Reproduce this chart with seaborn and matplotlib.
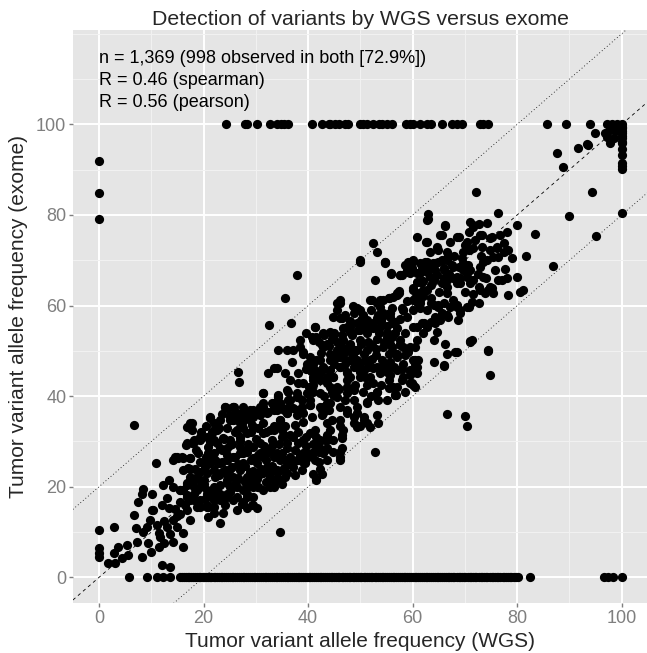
import numpy as np
import pandas as pd
import matplotlib
matplotlib.use("Agg")
import matplotlib.pyplot as plt
from matplotlib.ticker import FixedLocator
import seaborn as sns

# (WGS, exome) allele frequencies
cloud_low = [
    (6.6, 33.6), (2.9, 11.2), (1.8, 3.1), (2.8, 5.3), (3.7, 6.8), (5.3, 7.1), (4.3, 4.2), (3.1, 3.1),
    (5.6, 4.9), (7.2, 7.9), (8.5, 10.1), (9.4, 7.5), (8.2, 4.6), (9.1, 11.2), (9.8, 12.6), (10.4, 14.8),
    (11.4, 9.7), (11.4, 6.8), (11.7, 9.0), (11.0, 11.6), (12.0, 2.7), (13.6, 2.3), (13.0, 11.2),
    (14.2, 12.6), (14.9, 11.2), (16.1, 9.7), (16.0, 6.8), (14.2, 7.9), (15.5, 19.2), (15.5, 16.7),
    (16.8, 14.8), (17.4, 12.6), (16.8, 18.2), (17.4, 21.5), (18.7, 22.2), (20.0, 21.5), (19.3, 20.0),
    (18.1, 18.5), (20.9, 13.4), (20.9, 15.6), (20.3, 17.4), (21.6, 18.5), (23.2, 11.9), (23.8, 14.1),
    (24.1, 15.9), (23.2, 17.8), (22.5, 19.6), (24.4, 18.5), (26.3, 20.0), (8.5, 19.6), (8.2, 18.5),
    (10.1, 18.5), (12.3, 20.4), (7.5, 16.7), (6.6, 13.7), (10.1, 14.8), (12.0, 15.9), (13.3, 15.2),
    (10.9, 25.3), (14.5, 26.6), (15.2, 26.3), (16.6, 29.2), (17.7, 29.6), (19.3, 30.3), (17.4, 34.0),
    (17.7, 32.5), (21.2, 35.5), (17.4, 26.3), (17.4, 24.0), (18.4, 24.0), (34.6, 10.1),
    (29.5, 16.0), (28.3, 15.2), (26.3, 14.9), (21.9, 20.0), (20.6, 18.5), (21.9, 14.1), (21.2, 25.2),
    (19.3, 31.0), (18.1, 30.3), (16.8, 33.2), (15.8, 26.6), (14.9, 26.6), (14.2, 25.9), (16.1, 23.7),
    (17.4, 22.2), (19.3, 21.5), (20.6, 23.0), (21.9, 23.7), (15.5, 19.3), (14.2, 20.0), (13.3, 21.5),
    (16.8, 20.8), (18.1, 20.0), (16.8, 17.8), (18.1, 17.1), (19.3, 15.6), (20.6, 15.6), (21.9, 17.1),
    (7.0, 11.0), (12.5, 12.5), (12.5, 7.5), (13.5, 9.5), (15.0, 13.5), (13.0, 17.5), (14.5, 15.0),
    (10.0, 5.5), (15.5, 14.0),
]

cloud_core = [
    (31.4, 40.6), (34.3, 40.2), (36.2, 39.1), (38.1, 39.9), (41.0, 41.0), (40.4, 38.0), (42.9, 36.2),
    (43.6, 34.0), (24.1, 37.7), (25.7, 37.7), (21.2, 35.1), (17.7, 34.0), (17.4, 32.9), (16.8, 29.6),
    (18.1, 29.9), (19.6, 30.7), (21.6, 32.1), (21.9, 30.3), (20.9, 27.4), (16.1, 26.3), (17.4, 26.3),
    (17.1, 24.1), (19.3, 25.5), (21.2, 25.9), (22.5, 25.5), (23.5, 28.1), (25.1, 34.7), (26.3, 36.2),
    (28.3, 35.5), (29.2, 33.6), (30.8, 35.8), (32.4, 36.6), (33.4, 37.7), (34.6, 34.7), (35.9, 36.2),
    (37.2, 37.3), (35.6, 33.3), (37.5, 33.6), (39.1, 34.4), (40.7, 35.5), (41.3, 32.5), (42.3, 30.3),
    (43.6, 30.7), (43.6, 28.5), (42.0, 27.7), (41.3, 25.9), (39.4, 25.5), (38.5, 27.0), (38.1, 29.6),
    (41.6, 21.8), (38.8, 23.7), (37.2, 24.4), (35.3, 24.1), (34.0, 23.3), (34.3, 21.8), (32.7, 22.2),
    (31.4, 23.0), (30.2, 21.8), (29.2, 21.5), (28.3, 20.0), (30.5, 20.0), (26.0, 20.7), (24.4, 21.5),
    (23.2, 20.4), (25.1, 18.9), (26.3, 17.8), (28.3, 17.8), (29.2, 16.0), (27.3, 16.3), (19.3, 23.3),
    (20.0, 20.7), (18.1, 21.5), (16.8, 20.4), (16.1, 19.3), (18.7, 19.3), (20.6, 19.3), (21.6, 17.8),
    (19.3, 17.1), (17.4, 17.1), (16.5, 16.0), (18.7, 15.6), (20.6, 16.0), (21.9, 15.6), (23.2, 17.1),
    (24.5, 33.0), (26.0, 32.0), (27.5, 33.0), (29.0, 32.0), (30.5, 33.0), (32.0, 32.0), (33.5, 33.5),
    (35.0, 32.5), (36.5, 31.5), (38.0, 32.0), (39.5, 31.0), (24.0, 30.5), (25.5, 29.5), (27.0, 30.0),
    (28.5, 29.5), (30.0, 30.5), (31.5, 29.0), (33.0, 29.0), (34.5, 29.5), (36.0, 28.5), (37.5, 28.0),
    (39.5, 29.0), (41.0, 29.5), (24.5, 27.0), (26.0, 26.5), (27.5, 27.5), (29.0, 26.0), (30.5, 27.0),
    (32.0, 26.0), (33.5, 26.5), (35.0, 27.5), (36.5, 25.0), (38.0, 26.0), (40.0, 26.5), (23.5, 25.5),
    (25.0, 24.0), (26.5, 25.0), (28.0, 24.5), (29.5, 23.5), (31.0, 24.0), (33.0, 24.5), (34.5, 23.5),
    (36.0, 23.0), (37.5, 22.5), (23.0, 22.5), (24.5, 22.5), (26.5, 22.0), (28.0, 21.0), (30.0, 22.5),
    (32.0, 21.0), (33.5, 20.0), (35.0, 20.5), (19.0, 27.5), (20.5, 26.5), (22.0, 27.5), (18.5, 28.0),
    (19.5, 32.0), (20.5, 33.5), (22.0, 34.0), (23.0, 33.0), (23.5, 36.0), (27.5, 37.5), (29.5, 37.0),
]

cloud_mid = [
    (26.7, 43.2), (31.4, 40.6), (34.3, 40.0), (35.9, 41.3), (24.1, 37.5), (25.8, 37.5), (20.6, 25.9),
    (20.3, 24.4), (22.2, 25.9), (22.8, 25.2), (23.5, 23.3), (22.2, 22.2), (24.1, 23.7), (25.4, 24.4),
    (20.9, 28.8), (21.2, 29.9), (21.6, 31.8), (22.5, 32.5), (23.8, 30.7), (23.2, 28.5), (24.4, 28.5),
    (25.1, 29.2), (25.1, 35.5), (25.7, 34.7), (26.3, 32.5), (27.3, 34.0), (27.0, 31.0), (28.3, 35.1),
    (28.9, 36.9), (29.5, 35.5), (27.0, 28.8), (28.3, 27.7), (29.5, 26.3), (27.6, 25.2), (28.9, 23.3),
    (30.8, 22.9), (30.2, 25.2), (32.1, 24.4), (31.4, 26.6), (32.7, 28.1), (28.3, 21.5), (26.3, 21.5),
    (25.1, 20.0), (27.6, 19.3), (29.5, 20.0), (30.5, 20.0), (30.2, 15.2), (31.4, 31.8), (32.7, 32.5),
    (34.0, 33.2), (33.0, 30.3), (35.0, 31.0), (35.9, 29.6), (34.0, 27.4), (35.6, 25.9), (34.0, 23.7),
    (35.6, 22.2), (34.0, 21.5), (30.2, 36.2), (31.4, 38.4), (33.4, 36.9), (34.6, 34.7), (35.9, 36.2),
    (33.0, 38.4), (34.6, 38.4), (23.2, 25.2), (24.4, 25.9), (25.7, 26.6), (26.9, 27.4), (28.3, 28.1),
    (29.5, 28.8), (30.8, 29.6), (24.4, 37.3), (27.6, 36.2), (28.9, 34.7), (25.7, 34.7), (27.0, 34.0),
    (23.2, 34.7), (21.9, 32.5), (20.6, 31.0), (22.5, 29.6), (25.1, 30.3), (26.9, 31.0), (28.3, 31.8),
    (29.5, 33.2), (31.4, 34.0), (32.1, 36.2), (30.8, 37.7), (34.0, 36.9), (30.8, 27.4), (32.1, 27.4),
    (31.4, 23.7), (33.4, 21.5), (32.7, 20.0), (31.4, 19.3), (29.5, 20.8), (28.3, 22.2), (26.9, 23.7),
    (25.7, 22.2), (24.4, 20.8), (25.7, 20.0), (28.3, 18.5), (29.5, 17.8), (27.6, 16.7), (25.7, 17.1),
    (24.4, 17.8), (23.2, 18.5), (32.7, 23.0), (34.6, 25.9), (36.5, 26.6), (37.8, 25.9), (39.1, 27.4),
    (39.4, 25.2), (40.7, 27.4), (42.0, 28.8), (43.2, 28.1), (41.6, 31.0), (43.6, 31.4), (40.4, 31.8),
    (39.1, 30.3), (37.2, 31.0), (35.3, 31.4), (33.4, 32.5), (41.0, 22.9), (42.3, 24.0), (43.6, 25.9),
    (37.8, 36.9), (35.9, 37.3), (34.6, 38.0), (36.6, 39.1), (38.8, 39.1), (37.8, 40.6), (40.4, 38.0),
    (42.3, 37.7), (43.9, 36.9), (39.1, 42.8), (40.1, 42.1), (25.7, 37.7), (25.1, 35.8), (27.0, 35.5),
    (28.9, 35.5), (31.4, 37.7), (33.4, 38.4), (35.3, 36.9), (37.8, 35.8), (39.1, 36.2), (40.4, 39.1),
    (42.9, 37.7), (42.6, 35.8), (44.2, 38.4), (45.5, 39.9), (46.1, 37.7), (47.4, 40.6), (48.7, 39.1),
    (49.3, 37.7), (51.2, 38.4), (53.1, 41.0), (53.4, 39.1), (56.3, 41.7), (56.6, 40.2), (34.3, 39.9),
    (36.2, 41.0), (38.1, 42.8), (37.8, 39.9), (38.8, 37.7), (26.6, 45.4), (32.4, 45.0), (34.0, 46.1),
    (35.6, 45.0), (33.4, 46.1), (34.3, 50.2), (35.9, 50.2), (37.1, 50.2), (39.1, 49.8), (41.0, 47.2),
    (41.9, 44.7), (41.0, 52.4), (42.6, 51.3), (41.3, 55.3), (42.9, 53.9), (32.6, 55.7), (36.7, 56.1),
    (35.6, 61.6), (37.8, 66.7), (41.0, 43.5), (42.3, 43.5), (43.6, 44.3), (44.2, 42.1), (41.3, 45.8),
    (42.3, 48.0), (44.2, 48.0), (45.5, 50.2), (44.8, 53.1), (43.6, 51.6), (41.6, 53.1), (44.2, 54.2),
    (47.4, 36.9), (46.1, 34.7), (46.7, 32.5), (46.4, 30.7), (49.3, 36.2), (50.6, 35.5), (51.2, 34.0),
    (53.1, 35.8), (51.8, 33.2), (49.3, 33.2), (44.8, 30.3), (43.6, 30.3), (42.0, 29.9), (41.6, 28.1),
    (42.0, 25.5), (41.0, 27.4), (39.7, 27.4), (39.1, 25.5), (42.6, 22.9), (41.6, 21.5), (52.8, 27.7),
    (46.1, 27.7), (46.1, 25.9), (46.1, 33.3), (46.4, 31.4), (43.2, 30.3), (46.4, 28.5), (46.1, 26.6),
    (44.8, 27.7), (42.9, 27.4), (53.4, 34.0), (50.6, 34.7), (49.9, 33.4), (48.7, 35.5), (55.4, 41.7),
    (55.0, 39.1), (47.4, 36.2), (48.7, 34.0), (44.5, 34.7), (44.2, 32.5), (51.2, 38.8), (47.1, 39.1),
    (43.6, 38.4), (42.6, 36.9),
]

cloud_upper = [
    (52.5, 73.7), (53.1, 71.9), (49.9, 70.0), (54.7, 69.5), (55.8, 67.1), (52.8, 65.6), (57.9, 66.7),
    (60.8, 75.2), (62.6, 74.1), (62.7, 78.9), (66.2, 77.8), (68.4, 75.2), (70.0, 73.4), (71.6, 77.4),
    (73.2, 75.6), (75.1, 75.2), (76.1, 73.0), (63.3, 71.9), (64.6, 73.0), (65.2, 75.6), (67.2, 74.1),
    (66.5, 71.9), (59.2, 69.7), (60.1, 70.0), (61.4, 69.3), (62.7, 69.7), (63.9, 69.3), (65.6, 70.0),
    (58.9, 67.8), (60.8, 67.1), (62.7, 67.5), (64.3, 67.8), (65.9, 67.8), (67.8, 68.6), (69.7, 69.3),
    (71.0, 67.8), (72.9, 68.6), (74.2, 70.0), (75.4, 70.8), (60.8, 65.3), (62.0, 63.4), (64.0, 65.6),
    (65.9, 66.0), (67.8, 66.0), (69.1, 64.9), (70.3, 67.1), (71.6, 65.6), (72.9, 63.4), (74.8, 64.1),
    (75.4, 62.7), (73.8, 62.7), (52.2, 61.2), (53.8, 61.2), (55.4, 61.6), (57.0, 62.3), (57.3, 63.1),
    (60.1, 61.2), (60.8, 60.8), (61.4, 61.2), (62.7, 59.0), (63.6, 60.5), (64.9, 60.1), (65.9, 60.5),
    (67.2, 59.7), (68.4, 60.1), (69.1, 59.0), (70.3, 59.7), (71.3, 60.8), (45.5, 60.5), (46.1, 61.2),
    (44.8, 57.5), (46.4, 57.2), (49.0, 59.4), (49.9, 59.0), (50.2, 56.8), (53.4, 57.9), (55.7, 58.3),
    (57.9, 59.4), (56.6, 56.4), (41.3, 55.3), (40.7, 53.1), (42.0, 52.0), (42.9, 50.9), (44.5, 52.7),
    (46.7, 55.0), (48.0, 55.3), (48.3, 53.5), (49.6, 54.6), (51.2, 53.9), (52.5, 55.0), (53.8, 55.3),
    (55.0, 53.9), (56.0, 53.1), (53.1, 52.7), (52.2, 51.3), (51.2, 50.2), (50.2, 51.6), (49.0, 50.2),
    (48.0, 51.3), (46.4, 50.9), (45.5, 52.0), (44.2, 49.4), (45.5, 48.7), (46.7, 48.7), (48.0, 48.0),
    (49.3, 48.0), (50.9, 48.0), (52.2, 48.3), (54.1, 48.0), (55.4, 49.4), (56.0, 50.9), (57.6, 51.3),
    (56.9, 49.4), (38.5, 50.9), (39.1, 49.4), (40.4, 48.7), (39.7, 47.2), (41.6, 48.0), (42.9, 46.5),
    (42.3, 45.0), (41.0, 44.3), (44.2, 45.8), (44.8, 44.3), (46.1, 46.5), (47.4, 45.4), (48.0, 44.3),
    (48.7, 46.5), (49.9, 45.4), (50.9, 44.3), (52.5, 46.1), (53.8, 45.0), (55.4, 46.1), (55.7, 44.7),
    (58.9, 49.8), (60.1, 48.0), (60.8, 46.5), (59.5, 44.7), (60.5, 50.9), (62.0, 53.9), (61.7, 56.1),
    (62.7, 55.3), (63.6, 56.4), (64.0, 52.4), (64.3, 57.5), (65.2, 56.8), (66.5, 57.9), (68.1, 49.8),
    (68.7, 56.8), (71.0, 52.0), (59.5, 42.8), (60.5, 42.1), (56.6, 40.2), (53.1, 41.0), (48.7, 41.3),
    (51.2, 42.4), (43.6, 42.8), (41.0, 42.4), (39.7, 40.6), (44.8, 40.2), (42.3, 40.6), (47.4, 42.1),
    (74.5, 50.2), (71.3, 52.4),
]

cloud_dense = [
    (43.0, 40.0), (44.5, 41.0), (46.0, 41.5), (47.5, 43.5), (49.0, 42.5), (50.5, 41.0), (52.0, 40.0),
    (54.0, 42.5), (55.5, 43.5), (57.0, 42.0), (58.5, 41.0), (43.0, 46.0), (45.0, 47.0), (47.0, 47.0),
    (48.5, 49.0), (50.0, 47.0), (51.5, 46.5), (53.0, 49.0), (54.5, 47.0), (56.5, 46.5), (58.0, 46.0),
    (42.5, 49.5), (44.0, 51.0), (46.0, 50.0), (47.5, 50.0), (50.0, 52.5), (51.5, 52.0), (53.0, 50.5),
    (54.5, 52.0), (56.0, 50.0), (58.5, 49.0), (43.0, 53.5), (45.0, 54.0), (46.5, 53.5), (48.0, 56.5),
    (50.0, 54.5), (51.5, 55.0), (53.5, 54.0), (55.0, 55.5), (57.0, 55.0), (58.5, 54.0), (47.0, 58.0),
    (48.5, 60.0), (50.5, 58.0), (52.0, 59.0), (54.0, 56.5), (56.0, 59.5), (57.5, 57.0), (59.0, 57.5),
    (59.0, 61.0), (62.0, 62.0), (63.5, 64.5), (65.0, 63.0), (66.5, 64.0), (67.0, 67.0), (69.0, 66.0),
    (70.0, 63.0), (71.5, 62.5), (72.5, 67.0), (73.5, 69.5), (73.0, 71.0), (68.0, 71.0), (69.5, 70.5),
    (62.0, 65.5), (63.0, 68.5), (70.5, 69.0), (74.0, 66.0), (36.5, 43.5), (38.0, 45.0), (39.5, 46.0),
    (40.5, 45.5), (37.0, 47.5), (38.5, 52.5), (39.5, 54.0),
]

cloud_high = [
    (49.9, 69.7), (54.7, 69.3), (58.5, 68.9), (59.8, 69.7), (61.7, 68.9), (62.4, 69.7), (55.9, 66.9),
    (57.6, 66.7), (59.5, 67.1), (61.4, 67.1), (61.7, 65.2), (45.5, 59.0), (46.1, 60.5),
    (48.7, 58.3), (49.3, 59.4), (46.1, 57.2), (47.4, 55.3), (48.0, 54.2), (49.3, 56.1),
    (50.6, 55.3), (51.2, 56.8), (52.5, 56.1), (53.1, 57.2), (54.4, 58.3), (53.8, 59.7), (55.7, 57.5),
    (56.3, 61.9), (57.0, 62.7), (58.2, 59.0), (60.1, 59.0), (61.4, 60.5), (60.8, 62.7), (60.1, 63.4),
    (51.8, 61.2), (53.1, 60.5), (54.4, 61.2), (46.7, 52.4), (48.0, 51.6), (49.3, 50.2), (50.6, 49.4),
    (51.8, 48.0), (53.1, 46.5), (54.4, 45.8), (55.7, 47.2), (57.0, 48.7), (55.7, 51.6), (55.1, 53.1),
    (56.3, 53.8), (57.6, 52.4), (58.2, 50.9), (57.0, 45.8), (58.2, 44.3), (59.8, 42.8), (60.5, 47.2),
    (61.1, 47.9), (60.8, 45.0), (59.5, 45.8), (46.1, 46.5), (47.4, 45.0), (48.0, 47.9), (49.3, 46.5),
    (46.1, 48.7), (44.8, 44.3), (45.5, 42.1), (50.6, 45.8), (49.9, 44.3), (51.8, 44.3), (52.5, 42.8),
    (63.0, 80.3), (63.0, 79.0), (66.2, 77.5), (71.0, 78.5), (71.6, 77.8), (72.6, 78.1), (74.2, 78.3),
    (76.4, 80.5), (79.9, 77.8), (83.4, 75.8), (81.6, 71.0), (86.9, 68.8), (78.0, 76.3), (76.7, 75.6),
    (77.4, 73.7), (74.8, 74.8), (62.7, 74.1), (65.6, 75.6), (68.8, 75.2),
    (70.7, 76.3), (70.3, 74.1), (71.9, 74.5), (72.9, 75.6), (64.9, 72.2), (66.5, 70.4),
    (69.7, 71.9), (70.7, 72.2), (71.6, 72.6), (73.2, 73.0), (74.8, 72.2), (76.1, 72.6), (77.4, 71.9),
    (78.3, 72.2), (79.0, 70.4), (76.4, 70.8), (54.7, 69.5), (57.6, 66.7), (59.2, 67.5),
    (59.8, 68.2), (61.7, 68.6), (64.3, 69.3), (64.9, 69.7), (65.9, 68.2), (67.5, 68.9),
    (68.8, 68.6), (69.7, 67.8), (68.4, 66.4), (66.5, 70.0), (61.4, 65.3), (63.3, 66.4), (64.6, 66.7),
    (65.6, 64.9), (66.5, 65.6), (68.4, 64.9), (70.3, 66.4), (71.0, 64.9), (72.6, 64.1), (73.5, 66.4),
    (75.1, 63.8), (77.0, 65.6), (78.0, 66.0), (79.9, 66.4), (80.5, 63.0), (81.2, 63.4), (75.8, 67.8),
    (77.7, 68.0), (76.4, 65.6), (60.1, 63.8), (62.7, 63.4), (66.5, 62.7), (67.8, 61.2), (68.4, 59.7),
    (69.1, 58.3), (70.7, 59.7), (72.6, 60.5), (74.5, 63.4), (78.3, 62.3), (53.8, 60.8), (55.4, 61.6),
    (57.3, 62.7), (60.5, 61.6), (61.1, 60.5), (61.4, 59.4), (63.6, 61.6), (64.0, 60.1), (64.9, 59.7),
    (66.8, 57.5), (65.6, 58.3), (58.2, 59.0), (55.7, 58.3), (54.1, 57.5), (56.0, 56.1), (55.0, 53.9),
    (56.6, 53.9), (60.1, 55.3), (62.1, 56.1), (64.3, 56.1), (64.6, 54.2), (60.8, 52.4), (71.0, 52.2),
    (74.5, 50.0), (68.4, 49.8), (66.2, 51.6), (66.5, 49.4), (64.0, 47.6), (65.9, 46.9), (60.5, 48.0),
    (59.8, 45.4), (59.5, 50.9), (57.6, 51.6), (57.0, 49.4), (55.7, 47.6), (54.4, 50.9), (55.0, 45.4),
    (74.8, 44.7), (66.6, 36.0), (70.0, 35.7), (70.3, 33.4), (66.0, 46.7), (60.1, 42.5),
    (56.8, 40.2), (56.3, 42.1), (57.9, 43.6), (59.2, 49.8), (60.8, 55.3), (58.2, 47.2), (59.4, 45.5),
    (72.1, 85.1), (94.9, 98.0), (97.1, 98.0), (97.8, 95.8), (93.6, 95.4), (91.7, 94.8), (87.6, 93.7),
    (88.7, 90.6), (94.4, 85.1), (90.0, 79.8), (95.0, 75.4), (93.3, 95.7), (96.8, 98.1), (97.2, 97.3),
    (97.8, 99.5), (98.5, 97.0), (98.8, 98.5),
]

# exome = 0 (not seen by exome)
exome_zero_wgs = [
    5.7, 9.1, 11.1, 12.3, 13.6, 15.5, 16.2, 17.0, 17.6, 18.3, 19.1, 19.8, 20.4, 21.2, 21.9, 22.5,
    23.3, 24.0, 24.6, 25.4, 26.1, 26.8, 27.5, 28.1, 28.9, 29.6, 30.2, 31.0, 31.7, 32.3, 33.1, 33.8,
    34.4, 35.2, 35.9, 36.5, 37.3, 38.0, 38.6, 39.4, 40.1, 40.7, 41.5, 42.2, 42.8, 43.6, 44.3, 44.9,
    45.7, 46.4, 47.0, 47.8, 48.5, 49.1, 49.9, 50.6, 51.2, 52.0, 52.7, 53.3, 54.1, 54.8, 55.4, 56.2,
    56.9, 57.5, 58.3, 59.0, 59.6, 60.4, 61.1, 61.7, 62.5, 63.2, 63.8, 64.6, 65.3, 65.9, 66.7, 67.4,
    68.0, 68.8, 69.5, 70.1, 70.9, 71.6, 72.2, 73.0, 73.7, 74.3, 75.1, 75.8, 76.4, 77.2, 77.9, 78.6,
    79.3, 80.2, 82.5, 96.6, 97.4, 98.3, 100.0,
    15.9, 16.6, 17.3, 18.0, 18.7, 19.4, 20.1, 20.8, 21.5, 22.2, 22.9, 23.6, 24.3, 25.0, 25.7, 26.4,
    27.2, 27.8, 28.5, 29.2, 29.9, 30.6, 31.3, 32.0, 32.7, 33.4, 34.1, 34.8, 35.5, 36.2, 36.9, 37.6,
    38.3, 39.0, 39.7, 40.4, 41.1, 41.8, 42.5, 43.2, 43.9, 44.6, 45.3, 46.0, 46.7, 47.4, 48.1, 48.8,
    49.5, 50.2, 50.9, 51.6, 52.3, 53.0, 53.7, 54.4, 55.1, 55.8, 56.5, 57.2, 57.9, 58.6, 59.3, 60.0,
    60.7, 61.4, 62.1, 62.8, 63.5, 64.2, 64.9, 65.6, 66.3, 67.0, 67.7, 68.4, 69.1, 69.8, 70.5, 71.2,
    71.9, 72.6, 73.3, 74.0, 74.7, 75.4, 76.1, 76.8, 77.5, 78.2, 78.9, 79.7,
]
# wgs = 0 (not seen by WGS)
wgs_zero_exome = [91.9, 84.9, 79.1, 10.4, 6.4, 5.3, 4.5]
# exome = 100
exome_full_wgs = [
    24.2, 27.9, 28.3, 30.2, 32.7, 34.0, 34.9, 35.3, 36.2, 40.7, 42.6, 43.9, 44.2, 45.1, 46.0, 47.1,
    47.7, 49.9, 50.5, 51.2, 52.5, 53.5, 54.1, 55.0, 56.0, 58.7, 59.4, 60.0, 61.4, 62.7, 63.5, 65.6,
    67.5, 68.5, 69.4, 72.9, 73.5, 74.5, 85.7, 89.3, 93.9, 97.1, 98.1, 99.0,
]
# wgs = 100
wgs_full_exome = [100.0, 99.5, 99.1, 98.5, 98.0, 97.5, 96.9, 96.2, 95.8, 94.5, 93.2, 91.5, 90.9, 90.2, 80.4]

stat_lines = [
    "n = 1,369 (998 observed in both [72.9%])",
    "R = 0.46 (spearman)",
    "R = 0.56 (pearson)",
]

pairs = cloud_low + cloud_core + cloud_mid + cloud_upper + cloud_dense + cloud_high
df = pd.concat([
    pd.DataFrame(pairs, columns=["wgs", "exome"]),
    pd.DataFrame({"wgs": exome_zero_wgs, "exome": 0.0}),
    pd.DataFrame({"wgs": 0.0, "exome": wgs_zero_exome}),
    pd.DataFrame({"wgs": exome_full_wgs, "exome": 100.0}),
    pd.DataFrame({"wgs": 100.0, "exome": wgs_full_exome}),
], ignore_index=True)

sns.set_theme(style="darkgrid")
plt.rcParams["font.family"] = ["Liberation Sans", "DejaVu Sans"]

fig = plt.figure(figsize=(6.47, 6.53), dpi=100)
ax = fig.add_axes([72.9 / 647, 1 - 603.4 / 653, 575 / 647, 573.1 / 653])
ax.set_facecolor("#E5E5E5")

ax.xaxis.set_major_locator(FixedLocator([0, 20, 40, 60, 80, 100]))
ax.xaxis.set_minor_locator(FixedLocator([10, 30, 50, 70, 90]))
ax.yaxis.set_major_locator(FixedLocator([0, 20, 40, 60, 80, 100]))
ax.yaxis.set_minor_locator(FixedLocator([10, 30, 50, 70, 90, 110, 120]))
ax.grid(which="major", color="white", linewidth=1.4)
ax.grid(which="minor", color="#F2F2F2", linewidth=0.7)
ax.set_axisbelow(True)

for off, style in [(20, (0, (1, 3))), (0, (0, (4, 4))), (-20, (0, (1, 3)))]:
    ax.axline((0, off), slope=1, color="black", linewidth=0.6, linestyle=style, zorder=1.5)

sns.scatterplot(data=df, x="wgs", y="exome", color="black", s=44, linewidth=0, ax=ax, zorder=3)

ax.set_xlim(-5, 105)
ax.set_ylim(-5.75, 120.75)

for txt, yy in zip(stat_lines, [113.6, 108.7, 103.8]):
    ax.text(0, yy, txt, fontsize=13, ha="left", va="baseline", color="black")

ax.tick_params(which="major", length=3.2, width=1, color="#7F7F7F", labelcolor="#7F7F7F",
               labelsize=13, pad=1.5, bottom=True, left=True)
ax.tick_params(which="minor", length=0)
ax.set_xlabel("Tumor variant allele frequency (WGS)", fontsize=15, labelpad=4)
ax.set_ylabel("Tumor variant allele frequency (exome)", fontsize=15, labelpad=6)
ax.set_title("Detection of variants by WGS versus exome", fontsize=15.3, pad=4)
for s in ax.spines.values():
    s.set_visible(False)

fig.savefig("out.png", dpi=100)
